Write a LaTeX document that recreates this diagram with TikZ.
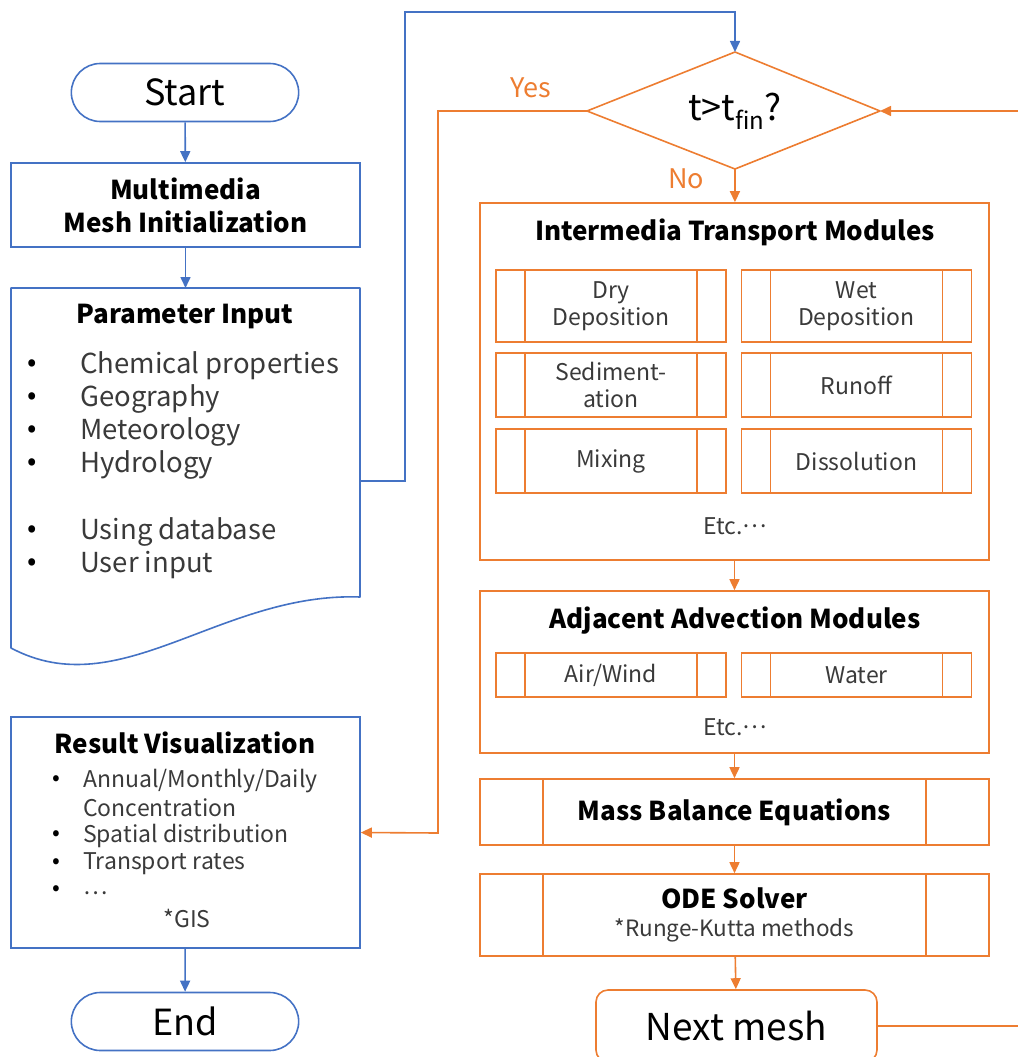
\documentclass[tikz,border=0pt]{standalone}
\usepackage{fontspec}
\setmainfont{Noto Sans CJK JP}
\usepackage{tikz}
\usetikzlibrary{positioning}
\usetikzlibrary{arrows.meta,shapes.misc}

\definecolor{flowblue}{HTML}{4472C4}
\definecolor{floworange}{HTML}{ED7D31}
\definecolor{txtgray}{HTML}{3A3A3A}
\newcommand{\fsz}[2]{\fontsize{#1}{#2}\selectfont}
\newcommand{\middots}{\raisebox{0.28em}{…}}

\begin{document}
\begin{tikzpicture}[
	x=1pt, y=-1pt,
	>={Triangle[length=11pt,width=10pt]},
	bline/.style={flowblue, line width=1.6pt},
	oline/.style={floworange, line width=1.6pt},
	term/.style={bline, draw, rounded rectangle, minimum width=234, minimum height=58, text=black, font=\fsz{36}{40}},
	bbox/.style={bline, draw, minimum width=349, text=black},
	obox/.style={oline, draw, minimum width=509, text=black},
	title/.style={text=black, font=\bfseries\fsz{26}{33}, align=center},
	item/.style={anchor=west, text=txtgray, inner sep=0},
	predef/.style={oline, draw, fill=white, path picture={
		\draw[oline] ([xshift=#1]path picture bounding box.north west) -- ([xshift=#1]path picture bounding box.south west)
		([xshift=-#1]path picture bounding box.north east) -- ([xshift=-#1]path picture bounding box.south east);}},
	subbox/.style={predef=29, minimum width=230, text=txtgray, align=center, font=\fsz{23}{27}},
	bigproc/.style={predef=63, minimum width=509, text=black, align=center}
]
	\useasboundingbox (0,0) rectangle (1017,1057);

	% Left column
	\node[term] (start) at (185,92.5) {Start};
	\node[bbox, minimum height=84, title] (init) at (185.5,205) {Multimedia\\Mesh Initialization};

	% Draw document shape
	\draw[bline, line join=round]
		(11,288) coordinate (param nw) -- (185.5,288) coordinate (param top) -- (360,288) -- (360,597)
		.. controls (220,592) and (120,706) .. (11,648) -- cycle;
	\coordinate (param out) at (360,481);
	\node[title] (param title) at (185,317) {Parameter Input};
	\foreach \y/\txt [count=\i] in {366/Chemical properties, 399/Geography, 432/Meteorology,
		465/Hydrology, 532/Using database, 565/User input} {
		\node[item, font=\fsz{27.5}{30}, text=black] (pbul\i) at (27,\y) {•};
		\node[item, font=\fsz{27.5}{30}] (pitem\i) at (80,\y) {\txt};
	}

	\node[bbox, minimum height=231] (result) at (185.5,832.5) {};
	\node[title] (result title) at (185,743) {Result Visualization};
	\foreach \y/\txt [count=\i] in {781/{Annual/Monthly/Daily}, 836/Spatial distribution,
		864/Transport rates} {
		\node[item, font=\fsz{23}{27}, text=black] (rbul\i) at (52,\y) {•};
		\node[item, font=\fsz{23}{27}] (ritem\i) at (83,\y) {\txt};
	}
	\node[item, font=\fsz{23}{27}] (ritem conc) at (83,808) {Concentration};
	\node[item, font=\fsz{23}{27}, text=black] (rbul4) at (52,891) {•};
	\node[item, font=\fsz{23}{27}] (ritem4) at (83,894) {\smash{…}};
	\node[text=txtgray, font=\fsz{23}{27}] (gis) at (187,918) {*GIS};
	\node[term] (end) at (185,1021.5) {End};

	% Decision
	\draw[oline, line join=round]
		(735,52) coordinate (dtop) -- (880,111) coordinate (dright)
		-- (735,169) coordinate (dbot) -- (587,111) coordinate (dleft) -- cycle;
	\node[font=\fsz{36}{40}] (cond) at (735,111) {t>t\raisebox{-0.45ex}{\fsz{24}{26}fin}?};
	\node[floworange, font=\fsz{27}{30}] (yes) at (531,88) {Yes};
	\node[floworange, font=\fsz{27}{30}] (no) at (686,179) {No};

	% Right column
	\node[obox, minimum height=357] (trans) at (734.5,381.5) {};
	\node[title] (trans title) at (735,232) {Intermedia Transport Modules};
	\node[subbox, minimum height=72] (dry) at (611,306) {Dry\\Deposition};
	\node[subbox, minimum height=72] (wet) at (856.5,306) {Wet\\Deposition};
	\node[subbox, minimum height=64] (sedi) at (611,385) {Sediment-\\ation};
	\node[subbox, minimum height=64] (runoff) at (856.5,385) {Runoff};
	\node[subbox, minimum height=64] (mixing) at (611,461) {Mixing};
	\node[subbox, minimum height=64] (dissol) at (856.5,461) {Dissolution};
	\node[text=txtgray, font=\fsz{23}{27}] (trans etc) at (735,526) {Etc.\middots};

	\node[obox, minimum height=162] (advec) at (734.5,672) {};
	\node[title] (advec title) at (735,621) {Adjacent Advection Modules};
	\node[subbox, minimum height=44] (air) at (611,675) {Air/Wind};
	\node[subbox, minimum height=44] (water) at (856.5,675) {Water};
	\node[text=txtgray, font=\fsz{23}{27}] (advec etc) at (735,727) {Etc.\middots};

	\node[bigproc, minimum height=66, font=\bfseries\fsz{26}{30}] (mass) at (734.5,812) {Mass Balance Equations};
	\node[bigproc, minimum height=82, font=\fsz{26}{31}] (ode) at (734.5,915)
		{\textbf{ODE Solver}\\[-3pt]{\color{txtgray}\fsz{22.5}{26}*Runge-Kutta methods}};
	\node[oline, draw, rounded corners=12, minimum width=281, minimum height=72, text=black,
		font=\fsz{37}{40}] (next) at (736.5,1026) {Next mesh};

	% Connectors
	\coordinate (loop top) at (405,12);
	\coordinate (yes bend) at (438,833);
	\coordinate (loop right) at (1045,111);
	\draw[bline, ->] (start) -- (init);
	\draw[bline, ->] (init) -- (param top);
	\draw[bline, ->] (param out) -| (loop top) -| (dtop);
	\draw[bline, ->] (result) -- (end);
	\draw[oline, ->] (dleft) -| (yes bend) -- (result.east);
	\draw[oline, ->] (dbot) -- (trans);
	\draw[oline, ->] (trans) -- (advec);
	\draw[oline, ->] (advec) -- (mass);
	\draw[oline, ->] (mass) -- (ode);
	\draw[oline, ->] (ode) -- (next);
	\draw[oline, ->] (next.east) -| (loop right) -- (dright);
\end{tikzpicture}
\end{document}
